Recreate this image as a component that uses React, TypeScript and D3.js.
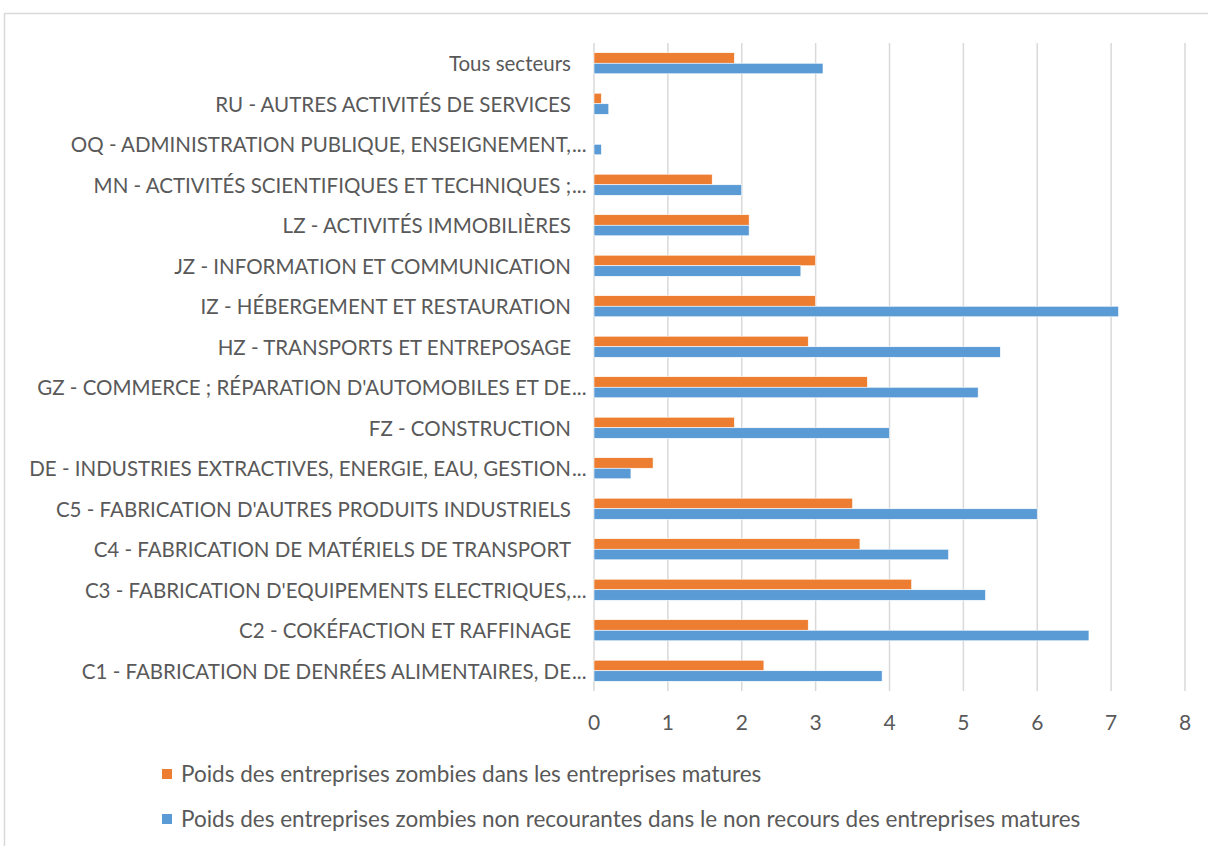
import React, { useRef, useEffect } from 'react';
import * as d3 from 'd3';

// categories, top to bottom; truncated ones keep their "..." apart
const categories = [
  'Tous secteurs',
  'RU - AUTRES ACTIVITÉS DE SERVICES',
  'OQ - ADMINISTRATION PUBLIQUE, ENSEIGNEMENT,',
  'MN - ACTIVITÉS SCIENTIFIQUES ET TECHNIQUES ;',
  'LZ - ACTIVITÉS IMMOBILIÈRES',
  'JZ - INFORMATION ET COMMUNICATION',
  'IZ - HÉBERGEMENT ET RESTAURATION',
  'HZ - TRANSPORTS ET ENTREPOSAGE',
  "GZ - COMMERCE ; RÉPARATION D'AUTOMOBILES ET DE",
  'FZ - CONSTRUCTION',
  'DE - INDUSTRIES EXTRACTIVES, ENERGIE, EAU, GESTION',
  "C5 - FABRICATION D'AUTRES PRODUITS INDUSTRIELS",
  'C4 - FABRICATION DE MATÉRIELS DE TRANSPORT',
  "C3 - FABRICATION D'EQUIPEMENTS ELECTRIQUES,",
  'C2 - COKÉFACTION ET RAFFINAGE',
  'C1 - FABRICATION DE DENRÉES ALIMENTAIRES, DE',
];
const truncated = [false, false, true, true, false, false, false, false, true, false, true, false, false, true, false, true];

const zombiesMatures = [1.9, 0.1, 0, 1.6, 2.1, 3.0, 3.0, 2.9, 3.7, 1.9, 0.8, 3.5, 3.6, 4.3, 2.9, 2.3];
const zombiesNonRecours = [3.1, 0.2, 0.1, 2.0, 2.1, 2.8, 7.1, 5.5, 5.2, 4.0, 0.5, 6.0, 4.8, 5.3, 6.7, 3.9];

const seriesNames = [
  'Poids des entreprises zombies dans les entreprises matures',
  'Poids des entreprises zombies non recourantes dans le non recours des entreprises matures',
];
const seriesColors = ['#ED7D31', '#5B9BD5'];
const xTicks = [0, 1, 2, 3, 4, 5, 6, 7, 8];

const App = () => {
  const svgRef = useRef(null);

  useEffect(() => {
    const width = 1208;
    const height = 846;
    const font = 'Lato, "Open Sans", sans-serif';
    const textColor = '#595959';

    const svg = d3.select(svgRef.current);
    svg.selectAll('*').remove();

    // frame of the chart area
    svg.append('rect')
      .attr('x', 4.5).attr('y', 13.5)
      .attr('width', 1230).attr('height', 860)
      .attr('fill', '#fff')
      .attr('stroke', '#d9d9d9')
      .attr('stroke-width', 1.5);

    const x = d3.scaleLinear().domain([0, 8]).range([594, 1185]);
    const y = d3.scaleBand()
      .domain(categories)
      .range([43, 691])
      .paddingInner(0.48)
      .paddingOuter(0.24);
    const ySeries = d3.scaleBand()
      .domain(['0', '1'])
      .range([0, y.bandwidth()]);

    // gridlines
    svg.append('g')
      .selectAll('line')
      .data(xTicks)
      .enter()
      .append('line')
      .attr('x1', d => x(d)).attr('x2', d => x(d))
      .attr('y1', 43).attr('y2', 691)
      .attr('stroke', '#d9d9d9')
      .attr('stroke-width', 1.5);

    // tick labels
    svg.append('g')
      .selectAll('text')
      .data(xTicks)
      .enter()
      .append('text')
      .attr('x', d => x(d))
      .attr('y', 730)
      .attr('text-anchor', 'middle')
      .attr('font-family', font)
      .attr('font-size', 21)
      .attr('fill', textColor)
      .text(d => d);

    // bars
    const series = [zombiesMatures, zombiesNonRecours];
    series.forEach((values, si) => {
      const rows = values.map((v, i) => ({ cat: categories[i], v }));
      svg.append('g')
        .selectAll('rect')
        .data(rows.filter(d => d.v > 0))
        .enter()
        .append('rect')
        .attr('x', x(0))
        .attr('y', d => y(d.cat) + ySeries(String(si)))
        .attr('width', d => x(d.v) - x(0))
        .attr('height', ySeries.bandwidth())
        .attr('fill', seriesColors[si])
        .attr('stroke', '#fff')
        .attr('stroke-width', 0.6);
    });

    // category labels
    const labels = svg.append('g');
    categories.forEach((c, i) => {
      const cy = y(c) + y.bandwidth() / 2 + 8;
      labels.append('text')
        .attr('x', 571)
        .attr('y', cy)
        .attr('text-anchor', 'end')
        .attr('font-family', font)
        .attr('font-size', 20.5)
        .attr('fill', textColor)
        .text(c);
      if (truncated[i]) {
        labels.append('text')
          .attr('x', 572)
          .attr('y', cy)
          .attr('font-family', font)
          .attr('font-size', 20.5)
          .attr('fill', textColor)
          .text('...');
      }
    });

    // legend
    const legend = svg.append('g');
    seriesNames.forEach((name, i) => {
      const ly = 774 + i * 45;
      legend.append('rect')
        .attr('x', 162).attr('y', ly - 5)
        .attr('width', 10).attr('height', 10)
        .attr('fill', seriesColors[i]);
      legend.append('text')
        .attr('x', 181)
        .attr('y', ly + 8)
        .attr('font-family', font)
        .attr('font-size', 22.5)
        .attr('fill', textColor)
        .text(name);
    });

    svg.attr('width', width).attr('height', height);
  }, []);

  return (
    <svg
      ref={svgRef}
      style={{ position: 'absolute', left: 0, top: 0, background: '#fff' }}
    ></svg>
  );
};

export default App;
